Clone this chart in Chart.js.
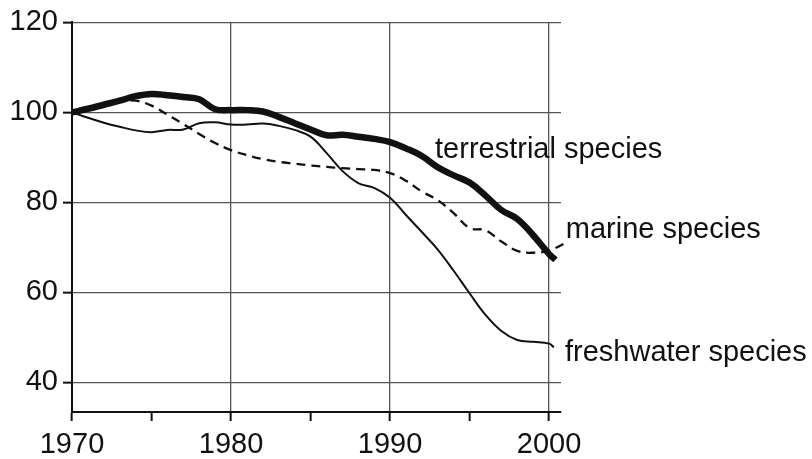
<!DOCTYPE html>
<html>
<head>
<meta charset="utf-8">
<script src="https://cdn.jsdelivr.net/npm/chart.js@4.4.1/dist/chart.umd.min.js"></script>
<style>
  html, body { margin: 0; padding: 0; background: #fff; }
  #wrap { width: 812px; height: 459px; }
</style>
</head>
<body>
<div id="wrap"><canvas id="chart" width="812" height="459"></canvas></div>
<script>
// yearly readings, index = year - 1970
const years = [1970, 1971, 1972, 1973, 1974, 1975, 1976, 1977, 1978, 1979,
               1980, 1981, 1982, 1983, 1984, 1985, 1986, 1987, 1988, 1989,
               1990, 1991, 1992, 1993, 1994, 1995, 1996, 1997, 1998, 1999, 2000];

const terrestrial = [100, 100.8, 101.7, 102.6, 103.6, 104.1, 103.8, 103.4, 102.9, 100.7,
                     100.5, 100.5, 100.2, 99.0, 97.6, 96.2, 94.9, 95.0, 94.6, 94.1,
                     93.4, 92.0, 90.3, 87.8, 86.0, 84.4, 81.5, 78.3, 76.3, 72.7, 68.5];
const marine = [100, 100.9, 101.8, 102.5, 102.6, 101.5, 99.5, 97.4, 95.2, 93.2,
                91.6, 90.5, 89.6, 89.0, 88.6, 88.2, 87.9, 87.6, 87.4, 87.2,
                86.5, 84.8, 82.4, 80.5, 77.6, 74.3, 73.8, 71.3, 69.2, 68.8, 69.3];
const freshwater = [100, 98.8, 97.7, 96.8, 96.0, 95.6, 96.1, 96.2, 97.6, 97.8,
                    97.3, 97.3, 97.5, 97.0, 96.1, 94.6, 91.0, 87.0, 84.3, 83.2,
                    81.0, 77.2, 73.4, 69.5, 64.8, 59.8, 55.0, 51.4, 49.4, 49.0, 48.6];

// where each line stops, just past the last full year
const tailYears = [2000.4, 2001.0, 2000.3];
const tailValues = [67.2, 70.9, 47.8];

const seriesNames = ['terrestrial species', 'marine species', 'freshwater species'];

const xTicks = [1970, 1975, 1980, 1985, 1990, 1995, 2000];
const yTicks = [40, 60, 80, 100, 120];

// label anchors in data units (left edge, baseline)
const labelYears = [1992.83, 2001.05, 2001.0];
const labelValues = [89.8, 72.0, 44.8];

const FONT = '"Liberation Sans", Arial, Helvetica, sans-serif';
const INK = '#111';

function points(values, i) {
    const pts = values.map((v, k) => ({ x: years[k], y: v }));
    pts.push({ x: tailYears[i], y: tailValues[i] });
    return pts;
}

const labelPlugin = {
    id: 'lineLabels',
    afterDatasetsDraw(chart) {
        const { ctx, scales } = chart;
        ctx.save();
        ctx.font = '29px ' + FONT;
        ctx.fillStyle = INK;
        ctx.textAlign = 'left';
        ctx.textBaseline = 'alphabetic';
        seriesNames.forEach((name, i) => {
            ctx.fillText(name, scales.x.getPixelForValue(labelYears[i]), scales.y.getPixelForValue(labelValues[i]));
        });
        ctx.restore();
    }
};

new Chart(document.getElementById('chart'), {
    type: 'line',
    data: {
        datasets: [
            {
                label: seriesNames[0],
                data: points(terrestrial, 0),
                borderColor: '#111',
                borderWidth: 6.5,
                pointRadius: 0,
                tension: 0.4,
                clip: false
            },
            {
                label: seriesNames[1],
                data: points(marine, 1),
                borderColor: '#111',
                borderWidth: 2.3,
                borderDash: [9, 6],
                pointRadius: 0,
                tension: 0.4,
                clip: false
            },
            {
                label: seriesNames[2],
                data: points(freshwater, 2),
                borderColor: '#111',
                borderWidth: 2,
                pointRadius: 0,
                tension: 0.4,
                clip: false
            }
        ]
    },
    options: {
        responsive: false,
        animation: false,
        layout: { padding: { top: 19, right: 251, left: 0, bottom: 0 } },
        plugins: {
            legend: { display: false },
            tooltip: { enabled: false }
        },
        scales: {
            x: {
                type: 'linear',
                min: 1970,
                max: 2000.75,
                afterBuildTicks: s => { s.ticks = xTicks.map(v => ({ value: v })); },
                afterFit: s => { s.height = 47; },
                grid: {
                    color: c => (c.tick && c.tick.value % 10 === 0) ? '#555' : 'rgba(0,0,0,0)',
                    lineWidth: 1.3,
                    tickColor: INK,
                    tickWidth: 2,
                    tickLength: 9
                },
                border: { color: INK, width: 2 },
                ticks: {
                    autoSkip: false,
                    maxRotation: 0,
                    padding: 7,
                    color: INK,
                    font: { family: FONT, size: 29 },
                    callback: v => (v % 10 === 0 ? String(v) : '')
                }
            },
            y: {
                min: 33.4,
                max: 120,
                afterBuildTicks: s => { s.ticks = yTicks.map(v => ({ value: v })); },
                afterFit: s => { s.width = 72; },
                grid: {
                    color: '#555',
                    lineWidth: 1.3,
                    tickColor: INK,
                    tickWidth: 2,
                    tickLength: 9
                },
                border: { color: INK, width: 2 },
                ticks: {
                    padding: 5,
                    color: INK,
                    font: { family: FONT, size: 29 }
                }
            }
        }
    },
    plugins: [labelPlugin]
});
</script>
</body>
</html>
